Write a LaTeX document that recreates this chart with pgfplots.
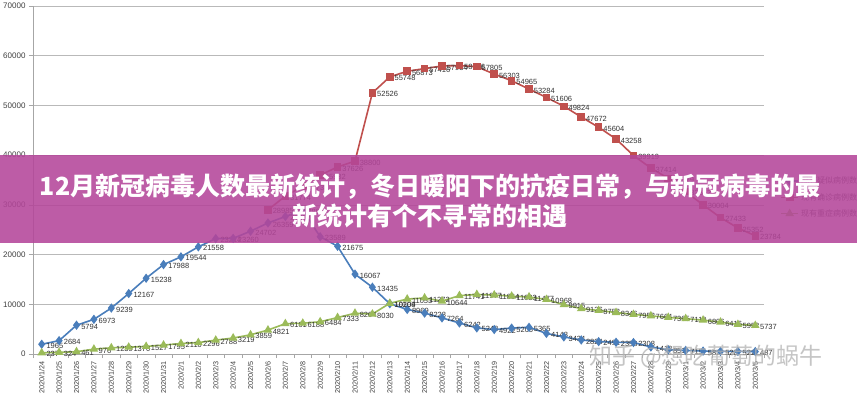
\documentclass[border=0pt]{standalone}
\usepackage{pgfplots}
\usepackage{pgfplotstable}
\pgfplotsset{compat=1.18}
\usepackage{fontspec}
\setmainfont{Liberation Sans}
\newfontfamily\cjk{Noto Sans CJK SC}

\definecolor{ysblue}{RGB}{74,126,187}
\definecolor{qzred}{RGB}{192,80,77}
\definecolor{zzgreen}{RGB}{155,187,89}
\definecolor{banner}{RGB}{180,70,154}

% 现有疑似病例数
\pgfplotstableread{
x y
0 1965
1 2684
2 5794
3 6973
4 9239
5 12167
6 15238
7 17988
8 19544
9 21558
10 23214
11 23260
12 24702
13 26359
14 27657
15 28942
16 23589
17 21675
18 16067
19 13435
20 10109
21 8969
22 8228
23 7264
24 6242
25 5248
26 4922
27 5206
28 5365
29 4148
30 3434
31 2824
32 2491
33 2358
34 2308
35 1418
36 851
37 715
38 587
39 520
40 522
41 487
}\suspected

% 现有确诊病例数
\pgfplotstableread{
x y
13 28985
14 31774
15 33738
16 35982
17 37626
18 38800
19 52526
20 55748
21 56873
22 57416
23 57934
24 58016
25 57805
26 56303
27 54965
28 53284
29 51606
30 49824
31 47672
32 45604
33 43258
34 39919
35 37414
36 35329
37 32652
38 30004
39 27433
40 25352
41 23784
}\confirmed

% 现有重症病例数
\pgfplotstableread{
x y
0 237
1 324
2 461
3 976
4 1239
5 1370
6 1527
7 1795
8 2110
9 2296
10 2788
11 3219
12 3859
13 4821
14 6101
15 6188
16 6484
17 7333
18 8204
19 8030
20 10204
21 11053
22 11272
23 10644
24 11741
25 11977
26 11864
27 11633
28 11477
29 10968
30 9915
31 9126
32 8752
33 8346
34 7952
35 7664
36 7365
37 7110
38 6806
39 6416
40 5952
41 5737
}\severe

\begin{document}
\begin{tikzpicture}
\path[use as bounding box, fill=white] (0,0) rectangle (857pt,400pt);
\begin{axis}[
    at={(33pt,46pt)}, anchor=south west,
    width=731pt, height=348pt, scale only axis,
    clip=false,
    xmin=-0.5, xmax=41.5, ymin=0, ymax=70000,
    axis x line*=bottom, axis y line*=left,
    axis line style={gray!70, line width=0.6pt},
    ytick={0,10000,...,70000}, scaled y ticks=false,
    ymajorgrids, major grid style={gray!55, line width=0.6pt},
    /pgf/number format/.cd, fixed, precision=0, 1000 sep={}, assume math mode=true,
    /pgfplots/.cd,
    tick align=outside,
    major tick length=4pt, minor tick length=4pt,
    tick style={gray!70, line width=0.5pt},
    major x tick style={draw=none},
    xtick={0,...,41},
    minor xtick={-0.5,0.5,...,41.5},
    xticklabels={2020/1/24,2020/1/25,2020/1/26,2020/1/27,2020/1/28,2020/1/29,2020/1/30,2020/1/31,
      2020/2/1,2020/2/2,2020/2/3,2020/2/4,2020/2/5,2020/2/6,2020/2/7,2020/2/8,2020/2/9,2020/2/10,
      2020/2/11,2020/2/12,2020/2/13,2020/2/14,2020/2/15,2020/2/16,2020/2/17,2020/2/18,2020/2/19,
      2020/2/20,2020/2/21,2020/2/22,2020/2/23,2020/2/24,2020/2/25,2020/2/26,2020/2/27,2020/2/28,
      2020/2/29,2020/3/1,2020/3/2,2020/3/3,2020/3/4,2020/3/5},
    x tick label style={rotate=90, anchor=east, font=\fontsize{7.2}{7.2}\selectfont, text=black!75},
    y tick label style={font=\fontsize{8}{8}\selectfont, text=black!75},
    every axis plot/.append style={line width=1.6pt},
    nodes near coords,
    every node near coord/.append style={anchor=west, xshift=3pt, yshift=-1.5pt,
      font=\fontsize{7.5}{7.5}\selectfont, text=black!80, inner sep=1pt},
    legend style={at={(1.018,0.45)}, anchor=west, draw=none, fill=none,
      font=\cjk\fontsize{8}{8}\selectfont, text=black!70, row sep=4pt},
    legend cell align=left,
]
\addplot[ysblue, mark=diamond*, mark size=3.4pt] table {\suspected};
\addlegendentry{现有疑似病例数}
\addplot[qzred, mark=square*, mark size=3pt] table {\confirmed};
\addlegendentry{现有确诊病例数}
\addplot[zzgreen, mark=triangle*, mark size=3.4pt] table {\severe};
\addlegendentry{现有重症病例数}
\end{axis}
\fill[banner, opacity=0.88] (0,157pt) rectangle (857pt,245pt);
\node[text=white, font=\cjk\bfseries\fontsize{25}{25}\selectfont] at (430pt,213pt)
  {12月新冠病毒人数最新统计，冬日暖阳下的抗疫日常，与新冠病毒的最};
\node[text=white, font=\cjk\bfseries\fontsize{25}{25}\selectfont] at (430pt,184pt)
  {新统计有个不寻常的相遇};
\node[text=gray!60, opacity=0.75, font=\cjk\fontsize{23}{23}\selectfont] at (706pt,43pt)
  {知乎 @想吃葡萄的蜗牛};
\end{tikzpicture}
\end{document}
